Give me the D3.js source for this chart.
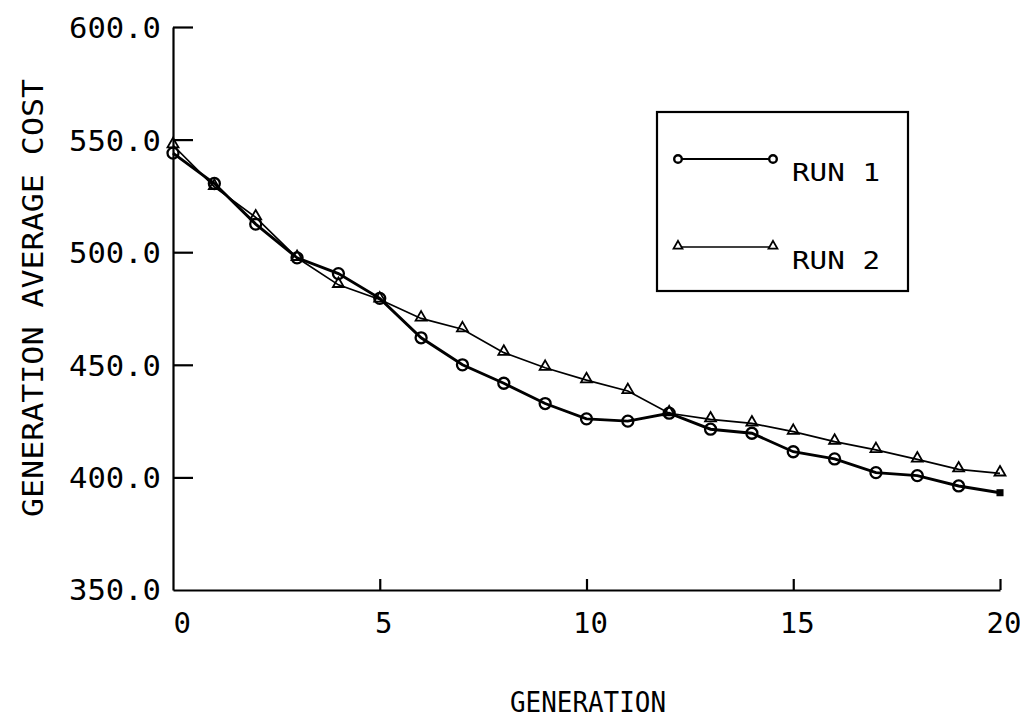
<!DOCTYPE html>
<html>
<head>
<meta charset="utf-8">
<script src="https://cdn.jsdelivr.net/npm/d3@7"></script>
<style>
  html, body { margin: 0; padding: 0; background: #fff; }
  svg { display: block; }
  text { font-family: "DejaVu Sans Mono", "Liberation Mono", monospace; fill: #000; }
</style>
</head>
<body>
<svg id="chart" width="1020" height="726"></svg>
<script>
// Generation index 0..20
const generations = [0,1,2,3,4,5,6,7,8,9,10,11,12,13,14,15,16,17,18,19,20];
// Average cost per generation, two independent runs
const run1 = [544,530.5,512.5,497.5,490.5,479.5,462,450,441.8,432.8,426,425,428.5,421.4,419.6,411.4,408.2,402.1,400.8,396.2,393.2];
const run2 = [547.5,529,515.5,497.5,485.5,479,470.6,465.8,455.4,448.7,443.2,438.4,428.5,425.8,424,420.3,415.9,412.2,408,403.6,401.8];
const yTicks = [400, 450, 500, 550, 600];
const xTicks = [0, 5, 10, 15, 20];
const seriesNames = ["RUN  1", "RUN  2"];

const svg = d3.select("#chart");
const x = d3.scaleLinear().domain([0, 20]).range([173, 1000]);
const y = d3.scaleLinear().domain([350, 600]).range([590, 27]);

// Left axis, ticks pointing into the plot
const gy = svg.append("g").attr("transform", `translate(${x(0)},0)`)
  .call(d3.axisLeft(y).tickValues(yTicks).tickSize(-20).tickSizeOuter(0).tickPadding(12)
    .tickFormat(d3.format(".1f")));
gy.selectAll("text").style("font-size", "29px").attr("dy", "0.36em")
  .attr("textLength", 92).attr("lengthAdjust", "spacingAndGlyphs");

// Label for the 350.0 corner
gy.append("text").attr("x", -12).attr("y", y(350)).attr("dy", "0.36em")
  .attr("text-anchor", "end").style("font-size", "29px")
  .attr("textLength", 92).attr("lengthAdjust", "spacingAndGlyphs")
  .text(d3.format(".1f")(350));

// Bottom axis, ticks pointing up
const gx = svg.append("g").attr("transform", `translate(0,${y(350)})`)
  .call(d3.axisBottom(x).tickValues(xTicks).tickSize(-11).tickSizeOuter(0).tickPadding(0));
gx.selectAll("text").style("font-size", "29px").attr("y", 43).attr("dy", "0")
  .attr("dx", "0.12em");
gx.selectAll("text").filter(d => d === 0).attr("dx", "0.3em");

svg.selectAll(".domain, .tick line").attr("stroke", "#000").attr("stroke-width", 2.2);
svg.selectAll(".tick line").filter(function(d){ return d === 0; }).remove();

// Axis titles
svg.append("text").attr("x", 588).attr("y", 712)
  .attr("text-anchor", "middle").style("font-size", "29px")
  .attr("textLength", 156).attr("lengthAdjust", "spacingAndGlyphs")
  .text("GENERATION");
svg.append("text")
  .attr("transform", "translate(43,298) rotate(-90)")
  .attr("text-anchor", "middle").style("font-size", "29px")
  .attr("textLength", 438).attr("lengthAdjust", "spacingAndGlyphs")
  .text("GENERATION AVERAGE COST");

const line = d3.line().x((d, i) => x(generations[i])).y(d => y(d));

// Run 2: thin line with open triangles
svg.append("path").datum(run2).attr("d", line)
  .attr("fill", "none").attr("stroke", "#000").attr("stroke-width", 1.7);
const tri = d3.symbol().type(d3.symbolTriangle).size(52);
svg.selectAll(".tri").data(run2).join("path").attr("class", "tri")
  .attr("d", tri)
  .attr("transform", (d, i) => `translate(${x(generations[i])},${y(d) - 1})`)
  .attr("fill", "none").attr("stroke", "#000").attr("stroke-width", 1.8);

// Run 1: heavier line with open circles, final point as a filled square
svg.append("path").datum(run1).attr("d", line)
  .attr("fill", "none").attr("stroke", "#000").attr("stroke-width", 2.9);
const last = run1.length - 1;
svg.selectAll(".circ").data(run1.slice(0, last)).join("circle").attr("class", "circ")
  .attr("cx", (d, i) => x(generations[i])).attr("cy", d => y(d)).attr("r", 5.5)
  .attr("fill", "none").attr("stroke", "#000").attr("stroke-width", 2.3);
svg.append("path")
  .attr("d", d3.symbol().type(d3.symbolSquare).size(50)())
  .attr("transform", `translate(${x(generations[last])},${y(run1[last])})`)
  .attr("fill", "#000");

// Legend
const legend = svg.append("g");
legend.append("rect").attr("x", 657).attr("y", 112).attr("width", 251).attr("height", 179)
  .attr("fill", "none").attr("stroke", "#000").attr("stroke-width", 2.2);
const legendRows = [159, 247];
legendRows.forEach((ly, k) => {
  legend.append("line").attr("x1", 678).attr("x2", 773).attr("y1", ly).attr("y2", ly)
    .attr("stroke", "#000").attr("stroke-width", k === 0 ? 2.2 : 1.6);
  [678, 773].forEach(lx => {
    if (k === 0) {
      legend.append("circle").attr("cx", lx).attr("cy", ly).attr("r", 3.8)
        .attr("fill", "#fff").attr("stroke", "#000").attr("stroke-width", 2.4);
    } else {
      legend.append("path").attr("d", d3.symbol().type(d3.symbolTriangle).size(34)())
        .attr("transform", `translate(${lx},${ly - 1})`)
        .attr("fill", "#fff").attr("stroke", "#000").attr("stroke-width", 1.8);
    }
  });
  legend.append("text").attr("x", 792).attr("y", ly + 22).style("font-size", "25px")
    .attr("textLength", 88).attr("lengthAdjust", "spacingAndGlyphs")
    .text(seriesNames[k]);
});
</script>
</body>
</html>
